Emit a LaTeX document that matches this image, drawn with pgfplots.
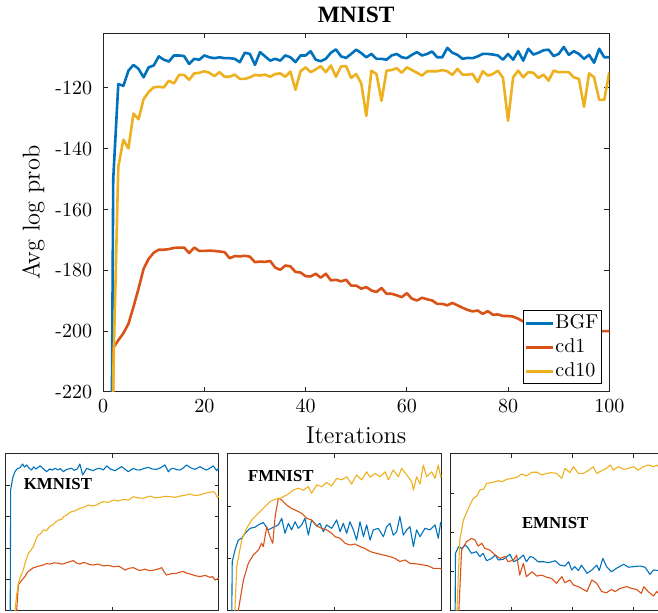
\documentclass[border=0pt]{standalone}
\usepackage{pgfplots}
\pgfplotsset{compat=1.18}
\usepackage{fontspec}
\newfontfamily\tnr{Liberation Serif}
\definecolor{mblue}{rgb}{0,0.447,0.741}
\definecolor{morange}{rgb}{0.85,0.325,0.098}
\definecolor{myellow}{rgb}{0.929,0.694,0.125}
\definecolor{axgray}{rgb}{0.15,0.15,0.15}
\pgfplotsset{
  inset/.style={scale only axis, height=78.5pt, tick align=inside, major tick length=2pt,
    axis line style={draw=axgray, line width=0.5pt},
    every tick/.style={draw=axgray, line width=0.5pt},
    xticklabels={}, yticklabels={}, no markers,
    every axis plot/.append style={line width=0.55pt, line join=round}}
}
\tikzset{lab/.style={font=\tnr\bfseries\fontsize{8.4}{10}\selectfont}}
\begin{document}
\begin{tikzpicture}
\begin{axis}[
  at={(51.55pt,110.5pt)}, anchor=south west,
  scale only axis, width=253.1pt, height=179.35pt,
  xmin=0, xmax=100, ymin=-220, ymax=-102,
  xtick={0,20,40,60,80,100}, ytick={-220,-200,-180,-160,-140,-120},
  tick align=inside, major tick length=2.6pt,
  axis line style={draw=axgray, line width=0.5pt},
  every tick/.style={draw=axgray, line width=0.5pt},
  tick label style={font=\fontsize{10}{12}\selectfont},
  /pgf/number format/assume math mode=true,
  yticklabel style={xshift=-2pt},
  title={MNIST},
  title style={font=\tnr\bfseries\fontsize{11.7}{14}\selectfont, yshift=-4.5pt},
  xlabel={Iterations}, ylabel={Avg log prob},
  ylabel shift=-1.5pt,
  label style={font=\fontsize{12.2}{14}\selectfont},
  legend style={at={(0.985,0.0215)}, anchor=south east, draw=black, fill=white,
    font=\fontsize{10}{12}\selectfont, inner xsep=1pt, inner ysep=1pt, row sep=1.5pt,
    nodes={inner xsep=0.5pt, inner ysep=0.5pt, text height=7.2pt, text depth=2.3pt}},
  legend cell align=left,
  legend image code/.code={\draw[#1] (0pt,0pt) -- (13.3pt,0pt);},
  no markers,
  every axis plot/.append style={line width=1.3pt, line join=round},
]
\addplot[mblue] coordinates {
(1,-430) (2,-150) (3,-118.7) (4,-119.3) (5,-114.3) (6,-112.4) (7,-113.7) (8,-116.5) (9,-113.2) (10,-112.6)
(11,-109.6) (12,-110.7) (13,-111.3) (14,-109.3) (15,-109.3) (16,-109.5) (17,-112.1) (18,-110.4) (19,-110.7) (20,-109.3)
(21,-109.9) (22,-110.2) (23,-109.9) (24,-110.2) (25,-110.2) (26,-110.4) (27,-111.5) (28,-108.4) (29,-108.8) (30,-112.4)
(31,-108.2) (32,-109.6) (33,-111.0) (34,-110.4) (35,-111.0) (36,-109.3) (37,-109.9) (38,-111.5) (39,-109.3) (40,-109.3)
(41,-107.9) (42,-110.7) (43,-111.2) (44,-110.4) (45,-108.4) (46,-107.3) (47,-109.6) (48,-110.1) (49,-108.8) (50,-107.4)
(51,-108.5) (52,-109.9) (53,-108.8) (54,-110.4) (55,-110.4) (56,-110.7) (57,-109.3) (58,-108.8) (59,-109.9) (60,-110.2)
(61,-109.1) (62,-108.2) (63,-109.3) (64,-108.8) (65,-108.0) (66,-109.9) (67,-109.9) (68,-106.8) (69,-108.4) (70,-109.1)
(71,-110.4) (72,-110.1) (73,-110.2) (74,-109.6) (75,-108.8) (76,-108.8) (77,-109.0) (78,-109.3) (79,-110.7) (80,-108.8)
(81,-110.7) (82,-107.9) (83,-111.0) (84,-107.1) (85,-109.0) (86,-108.4) (87,-107.6) (88,-107.4) (89,-109.5) (90,-108.8)
(91,-106.5) (92,-109.1) (93,-107.9) (94,-108.8) (95,-110.4) (96,-109.1) (97,-111.7) (98,-107.1) (99,-109.9) (100,-109.9)
};
\addlegendentry{BGF}
\addplot[morange] coordinates {
(1,-600) (2,-205.5) (3,-203.0) (4,-200.7) (5,-197.6) (6,-192.0) (7,-186.0) (8,-179.5) (9,-176.2) (10,-174.2)
(11,-173.2) (12,-173.2) (13,-173.0) (14,-172.6) (15,-172.5) (16,-172.5) (17,-174.3) (18,-172.5) (19,-173.6) (20,-173.6)
(21,-173.5) (22,-173.6) (23,-173.8) (24,-174.0) (25,-176.0) (26,-175.3) (27,-175.4) (28,-175.2) (29,-175.5) (30,-177.3)
(31,-177.1) (32,-177.2) (33,-176.9) (34,-179.1) (35,-179.8) (36,-178.4) (37,-178.7) (38,-180.5) (39,-180.7) (40,-181.9)
(41,-182.0) (42,-181.1) (43,-182.4) (44,-181.1) (45,-183.3) (46,-183.1) (47,-183.6) (48,-183.1) (49,-185.0) (50,-185.0)
(51,-186.0) (52,-185.5) (53,-186.6) (54,-187.1) (55,-185.8) (56,-187.7) (57,-187.7) (58,-188.2) (59,-188.8) (60,-187.5)
(61,-189.3) (62,-189.9) (63,-189.0) (64,-189.5) (65,-189.9) (66,-191.0) (67,-191.0) (68,-191.5) (69,-190.7) (70,-191.5)
(71,-192.3) (72,-193.0) (73,-193.5) (74,-193.2) (75,-194.3) (76,-193.4) (77,-194.6) (78,-194.5) (79,-195.0) (80,-195.0)
(81,-195.2) (82,-195.9) (83,-196.8) (84,-197.0) (85,-197.3) (86,-197.2) (87,-197.8) (88,-198.0) (89,-198.3) (90,-198.2)
(91,-198.7) (92,-199.0) (93,-199.2) (94,-199.3) (95,-199.5) (96,-199.8) (97,-199.8) (98,-200.0) (99,-200.0) (100,-200.0)
};
\addlegendentry{cd1}
\addplot[myellow] coordinates {
(1,-500) (2,-215) (3,-146) (4,-137.0) (5,-139.9) (6,-128.4) (7,-130.3) (8,-123.7) (9,-121.3) (10,-119.8)
(11,-119.6) (12,-119.8) (13,-117.6) (14,-118.5) (15,-115.7) (16,-115.7) (17,-117.3) (18,-115.2) (19,-115.0) (20,-114.5)
(21,-115.0) (22,-116.1) (23,-114.8) (24,-116.3) (25,-116.3) (26,-115.6) (27,-117.0) (28,-117.0) (29,-116.5) (30,-115.7)
(31,-115.9) (32,-115.6) (33,-116.3) (34,-115.4) (35,-115.2) (36,-116.3) (37,-114.6) (38,-120.6) (39,-114.5) (40,-113.2)
(41,-114.8) (42,-113.9) (43,-112.8) (44,-114.8) (45,-112.6) (46,-116.3) (47,-112.9) (48,-112.8) (49,-116.7) (50,-115.4)
(51,-118.5) (52,-129.2) (53,-114.3) (54,-115.4) (55,-124.2) (56,-114.3) (57,-114.1) (58,-113.5) (59,-115.0) (60,-113.2)
(61,-114.1) (62,-115.0) (63,-115.9) (64,-114.5) (65,-114.5) (66,-114.5) (67,-114.1) (68,-114.5) (69,-115.7) (70,-113.7)
(71,-115.6) (72,-115.6) (73,-115.4) (74,-118.1) (75,-114.5) (76,-115.9) (77,-115.4) (78,-114.3) (79,-116.7) (80,-130.8)
(81,-116.5) (82,-114.3) (83,-116.5) (84,-114.8) (85,-115.0) (86,-116.7) (87,-115.6) (88,-117.6) (89,-114.3) (90,-114.8)
(91,-114.8) (92,-114.8) (93,-116.5) (94,-117.0) (95,-126.2) (96,-115.2) (97,-116.5) (98,-123.9) (99,-123.9) (100,-114.8)
};
\addlegendentry{cd10}
\end{axis}

% KMNIST inset
\begin{axis}[inset, at={(3pt,1pt)}, anchor=south west, width=106.5pt,
  xmin=0, xmax=100, ymin=-300, ymax=-200, xtick={0,50,100}, ytick={-300,-280,-260,-240,-220,-200}]
\addplot[mblue] coordinates {
(1.7,-400) (2.2,-222.9) (3.2,-215) (4.2,-211.3) (5.2,-209.5) (6.5,-208.8) (7.8,-206.4) (8.7,-208.4) (9.7,-207) (10.8,-209)
(12,-210.2) (13,-208.2) (14,-209.6) (16,-207.6) (17.5,-209.4) (19.1,-211.3) (20.5,-209.5) (21.8,-210.3) (23,-209.1) (24.5,-210.1)
(25.5,-209.3) (26.9,-211.3) (28.5,-209.8) (30.8,-209.1) (32,-210.4) (33.5,-209.5) (34.7,-206.4) (36,-213.4) (37.9,-209.1) (39.5,-210)
(41,-210.6) (42.5,-209.5) (44.1,-209.1) (45.7,-210.2) (47.3,-207.6) (49,-209.6) (51.2,-210.6) (52.8,-209.3) (54.3,-208.1) (55.8,-209.6)
(57.4,-211.3) (59.8,-209.1) (61.3,-210.1) (62.9,-210.2) (64.9,-209.2) (66.8,-208.5) (68.7,-209.6) (70.7,-209.8) (72.6,-208.7) (74.6,-207)
(76.2,-211.3) (77.4,-209.6) (78.6,-209.1) (80.1,-210) (81.7,-210.2) (83.2,-208.9) (84.8,-207) (86.7,-208.8) (88.7,-209.8) (91.1,-208.1)
(92.6,-209.3) (94.2,-210.2) (95.7,-209) (97.3,-207.6) (98.9,-210.6) (99.7,-209.1) (100,-209.5)
};
\addplot[morange] coordinates {
(4.5,-320) (5,-300) (5.8,-283.4) (6.9,-281.3) (8.9,-278.1) (10,-275.5) (11.3,-273.9) (12.8,-272.5) (14.4,-271.8) (16,-271.2)
(17.5,-270.7) (19,-269.8) (20.7,-270.1) (22.5,-269.3) (24.6,-269.6) (26.5,-270.2) (28.5,-269.2) (30,-268.6) (31.6,-267.9) (33,-269.4)
(34.7,-270.1) (36.3,-269.1) (37.9,-269.6) (39.5,-270.5) (41,-270.7) (43,-270.1) (45.7,-271.3) (48,-270.9) (50.4,-271.8) (53,-271.5)
(55.9,-273.9) (57.8,-272.8) (59.8,-272.4) (61.5,-273.5) (62.9,-274.3) (65,-273.4) (67.6,-274.3) (70.5,-273.7) (73.1,-272.4) (74.2,-275)
(75.4,-277.1) (77.8,-276.2) (80.1,-276) (81.7,-275.2) (83.3,-274.9) (85,-276) (86.4,-276.4) (88.8,-277.5) (91.1,-278.1) (93.5,-277.3)
(95.8,-278.6) (97,-278) (98.1,-280.3) (99.7,-279.2) (100,-279.5)
};
\addplot[myellow] coordinates {
(3.5,-330) (4.2,-300) (5,-290) (5.8,-282.4) (7,-277.5) (8.1,-273.9) (9.3,-268) (10.5,-263.3) (11.6,-261.5) (12.8,-259)
(14,-254.5) (15.2,-251.6) (16.3,-250.8) (17.5,-248.4) (19,-248.8) (20.7,-245.9) (22,-245.2) (23.3,-243.5) (24.6,-242) (26,-241.8)
(27.3,-239.6) (28.5,-238.9) (29.7,-237.6) (30.8,-236.7) (32.5,-236.2) (34.7,-234.6) (36.5,-234) (38.7,-232.5) (40.5,-233.2) (42.6,-232.5)
(44,-231.2) (45.7,-230.4) (48,-230.9) (50.4,-229.3) (52.5,-230) (55.1,-228.9) (57.5,-229.4) (59.8,-227.2) (62,-228) (64.5,-228.2)
(66,-227.5) (67.6,-226.8) (70,-227.9) (72.3,-227.6) (74.5,-227) (77,-227.2) (79.5,-227.6) (81.7,-226.8) (84,-226.3) (86.4,-225.5)
(88.5,-226.4) (91.1,-226.1) (93,-225.2) (95,-224.6) (97.3,-224) (98.3,-225) (99.2,-227.6) (100,-227)
};
\node[lab] at (axis cs:24.4,-219.1) {KMNIST};
\end{axis}

% FMNIST inset
\begin{axis}[inset, at={(113.65pt,1pt)}, anchor=south west, width=107.2pt,
  xmin=0, xmax=100, ymin=-300, ymax=-240, xtick={0,50,100}, ytick={-300,-280,-260,-240}]
\addplot[mblue] coordinates {
(1.8,-330) (2.3,-281.1) (3.6,-276.7) (5.1,-272.9) (6.7,-272.2) (8.3,-270.3) (10.6,-268.4) (12.9,-268) (14.5,-267.1) (16.8,-266.2)
(19.1,-269) (21.5,-268) (23.8,-267.1) (25.4,-264.6) (26.9,-270.3) (28.5,-266.5) (30,-269) (31.6,-265.9) (33.1,-268.4) (34.7,-267.1)
(36.2,-264.6) (37.8,-271) (39.3,-265.2) (41.7,-267.5) (43.2,-266.5) (44.8,-269.7) (46.3,-267.1) (48.7,-268.4) (51,-265.2) (52.6,-269.7)
(54.1,-266.5) (55.7,-270.3) (57.2,-265.9) (58.8,-269) (60.3,-272.9) (61.9,-265.9) (63.5,-271.6) (65,-267.1) (66.6,-272.9) (68.1,-269)
(70.4,-268.4) (72.8,-271.6) (74.3,-267.8) (75.9,-266.5) (77.4,-271) (79,-269.7) (80.5,-263.9) (82.1,-271) (83.7,-269) (85.2,-267.8)
(86.8,-275.4) (88.3,-269) (89.9,-271.6) (92.2,-268.4) (94.5,-269) (96.9,-267.1) (98.4,-272.2) (99.5,-266.2) (100,-267)
};
\addplot[morange] coordinates {
(4.5,-320) (5.1,-300) (7.5,-288.2) (9.8,-281.8) (12.1,-278.6) (14.5,-276.7) (16,-274.1) (16.8,-275.4) (18.4,-267.8) (19.9,-271.6)
(21.2,-274.1) (22.3,-263.9) (23.8,-256.9) (25.4,-257.6) (27.7,-259.5) (30,-260.8) (32.4,-261.7) (34.7,-262.7) (37,-264.6) (39.3,-265.2)
(41.7,-267.5) (44,-268.4) (46.3,-269) (48.7,-270.3) (50.2,-271.6) (52.6,-272.2) (54.9,-274.1) (57.2,-274.8) (59.6,-274.4) (61.9,-275.4)
(64.2,-276.1) (66.6,-277.3) (69.7,-278) (72.8,-278.6) (75.9,-279.2) (78.2,-279.9) (80.5,-281.1) (82.9,-280.5) (85.2,-281.8) (88.3,-282)
(91.4,-282.4) (93.8,-282.8) (96.1,-283.7) (99.2,-283.7) (100,-284)
};
\addplot[myellow] coordinates {
(2.5,-320) (4.4,-283.1) (6.7,-272.9) (9,-268.4) (11.4,-265.2) (13.7,-263.3) (16,-261.4) (17.6,-260.1) (19.9,-258.2) (22.3,-257.3)
(24.6,-256.9) (26.9,-256) (28.5,-255.3) (30.8,-253.8) (33.1,-253.1) (35.5,-253.8) (37.8,-252.5) (39.3,-255) (41.7,-251.8) (44,-252.5)
(46.3,-250.9) (48.7,-252.2) (51,-249.3) (53.3,-249.9) (55.7,-248.7) (58,-251.5) (60.3,-248) (62.7,-249.9) (65,-246.8) (66.6,-248.9)
(68.9,-247.4) (71.2,-248.7) (73.6,-246.8) (75.1,-249.9) (77.4,-246.1) (79.8,-248.7) (81.3,-245.5) (83.7,-248) (86,-250.6) (86.8,-253.8)
(88.3,-248.7) (89.9,-251.5) (91.4,-244.2) (93,-248.7) (95.3,-246.8) (96.9,-249.3) (98.4,-244.2) (99.5,-248.7) (100,-248)
};
\node[lab] at (axis cs:25,-248.4) {FMNIST};
\end{axis}

% EMNIST inset
\begin{axis}[inset, at={(225pt,1pt)}, anchor=south west, width=107pt,
  xmin=0, xmax=35, ymin=-280, ymax=-200, xtick={0,10,20,30}, ytick={-280,-260,-240,-220,-200}]
\addplot[mblue] coordinates {
(0.8,-300) (0.9,-250.6) (1.4,-247.2) (1.9,-248.1) (2.5,-246.4) (3,-248.1) (3.5,-250.6) (4.3,-249.8) (4.9,-252.3) (5.4,-250.6)
(6,-254.4) (6.8,-253.2) (7.4,-251.5) (7.9,-254) (8.7,-253.7) (9.8,-251.1) (10.4,-254.9) (11.2,-253.7) (12,-251.5) (12.5,-254.9)
(13.1,-252.3) (13.6,-252.7) (14.4,-254.9) (15.3,-254.9) (16.1,-255.4) (17.2,-254.4) (18,-256.6) (18.8,-257.1) (19.4,-254.9) (19.9,-259.1)
(20.4,-257.4) (21,-259.4) (21.5,-256.6) (22.4,-260.8) (23.2,-259.1) (24,-256.6) (24.4,-259.4) (25,-253.2) (25.6,-257.4) (26.4,-260)
(27.2,-258.3) (28.4,-256.2) (29.2,-257.7) (30,-257.4) (31.1,-257.1) (31.9,-257.7) (32.7,-261.3) (33.3,-259.1) (34.1,-259.4) (35,-259)
};
\addplot[morange] coordinates {
(1.3,-290) (1.9,-248.9) (2.7,-244.7) (3.5,-243) (4.1,-243.8) (4.6,-246.9) (5.2,-245.5) (5.7,-248.1) (6.5,-248.9) (7.4,-251.5)
(8.2,-253.2) (9,-252.3) (9.5,-254.9) (10.4,-254) (10.9,-251.5) (11.4,-261.7) (12,-255.7) (12.5,-262.5) (13.4,-260) (14.2,-262.2)
(15,-261.7) (15.8,-262.8) (16.6,-263.4) (17.4,-265.9) (18.3,-262.5) (18.8,-265.6) (19.6,-264.2) (20.2,-266.8) (21,-267.6) (22.4,-270.1)
(23.2,-264.2) (24,-265.9) (24.8,-270.1) (25.6,-270.7) (26.4,-269) (27,-270.1) (27.8,-268.5) (28.9,-267.6) (29.7,-268.5) (30.5,-269)
(31.3,-271) (31.7,-267.6) (32.4,-270.1) (33.3,-272.4) (33.8,-270.1) (34.1,-271) (35,-270.5)
};
\addplot[myellow] coordinates {
(1.0,-290) (1.6,-243.8) (2.2,-233.6) (3,-227.7) (3.8,-222.6) (4.4,-221.4) (4.9,-218.3) (5.5,-218) (6,-214.9) (6.8,-214.6)
(7.4,-214.1) (7.9,-213.6) (8.5,-214.1) (9.3,-212.9) (10.1,-212.4) (10.9,-211.9) (11.7,-210.2) (12.5,-211.2) (13.4,-209.3) (14.2,-209.3)
(15,-210.6) (15.8,-209.9) (16.6,-209.5) (17.4,-209.9) (18.3,-212.4) (18.8,-207.3) (19.6,-209.5) (20.2,-206.5) (21,-209.9) (21.8,-209.9)
(22.6,-208.5) (23.4,-206.5) (24,-209.9) (24.8,-208.5) (25.6,-207.3) (26.2,-205.6) (26.7,-208.2) (27.5,-206.5) (28.4,-207.8) (29.2,-207.3)
(30,-206.5) (30.8,-208.2) (31.6,-206.5) (32.4,-205.6) (33.3,-206.5) (33.8,-205.6) (34.1,-206.5) (35,-206)
};
\node[lab] at (axis cs:17.2,-235.2) {EMNIST};
\end{axis}
\pgfresetboundingbox
\path[use as bounding box] (0pt,0pt) rectangle (329pt,306.5pt);
\end{tikzpicture}
\end{document}
